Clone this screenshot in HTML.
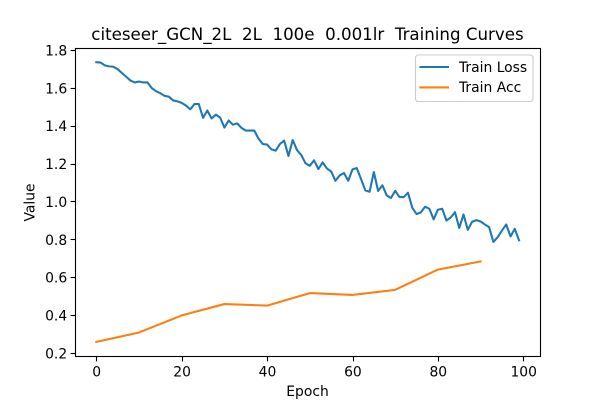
<!DOCTYPE html>
<html>
<head>
<meta charset="utf-8">
<style>
html,body{margin:0;padding:0;background:#fff;}
svg{display:block;}
text{font-family:"DejaVu Sans","Liberation Sans",sans-serif;fill:#000;white-space:pre;}
</style>
</head>
<body>
<svg id="chart" xmlns="http://www.w3.org/2000/svg" width="600" height="400" viewBox="0 0 600 400">
<rect x="0" y="0" width="600" height="400" fill="#fff"/>
<g id="plot"></g>
<text x="307.5" y="40" font-size="16.67" text-anchor="middle" xml:space="preserve">citeseer_GCN_2L  2L  100e  0.001lr  Training Curves</text>
<text x="307.5" y="396" font-size="13.89" text-anchor="middle">Epoch</text>
<text x="0" y="0" font-size="13.89" text-anchor="middle" transform="translate(34.5 202.5) rotate(-90)">Value</text>
<g>
<rect x="415.5" y="55" width="117.5" height="46.5" rx="2.8" fill="#fff" fill-opacity="0.8" stroke="#ccc" stroke-width="1.1"/>
<line x1="419.3" x2="449" y1="67" y2="67" stroke="#1f77b4" stroke-width="2.08"/>
<text x="459" y="71.8" font-size="13.89">Train Loss</text>
<line x1="419.3" x2="449" y1="87.4" y2="87.4" stroke="#ff7f0e" stroke-width="2.08"/>
<text x="459" y="92.2" font-size="13.89">Train Acc</text>
</g>
</svg>
<script>
const lossValues = [1.737,1.735,1.72,1.715,1.713,1.70,1.68,1.66,1.64,1.63,1.635,1.63,1.63,1.60,1.584,1.573,1.559,1.555,1.535,1.53,1.522,1.508,1.488,1.516,1.516,1.443,1.482,1.44,1.46,1.445,1.392,1.429,1.407,1.414,1.39,1.376,1.376,1.376,1.333,1.305,1.302,1.277,1.27,1.305,1.323,1.242,1.326,1.273,1.247,1.203,1.19,1.219,1.173,1.208,1.176,1.16,1.111,1.139,1.152,1.111,1.171,1.178,1.12,1.06,1.053,1.157,1.057,1.087,1.034,1.02,1.058,1.025,1.025,1.048,0.968,0.935,0.944,0.974,0.963,0.907,0.958,0.963,0.901,0.917,0.945,0.862,0.933,0.852,0.894,0.903,0.896,0.88,0.866,0.788,0.813,0.848,0.88,0.817,0.857,0.797];
const accEpochs = [0,10,20,30,40,50,60,70,80,90];
const accValues = [0.26,0.31,0.40,0.46,0.452,0.518,0.508,0.535,0.642,0.685];
const xTicks = [0,20,40,60,80,100];
const yTicks = [0.2,0.4,0.6,0.8,1.0,1.2,1.4,1.6,1.8];

const NS = 'http://www.w3.org/2000/svg';
const plot = document.getElementById('plot');
const box = {left:75.5, right:540.5, top:48.5, bottom:356.5};
function xScale(v){ return 96.3 + v * 4.27; }
function yScale(v){ return 353.3 - (v - 0.2) * 189.4; }
function make(tag, attrs, parent){
  const el = document.createElementNS(NS, tag);
  for (const k in attrs) el.setAttribute(k, attrs[k]);
  parent.appendChild(el);
  return el;
}

xTicks.forEach(function(t){
  const g = make('g', {}, plot);
  
  
  const x = Math.round(xScale(t)) + 0.5;
  make('line', {x1:x, x2:x, y1:box.bottom, y2:box.bottom + 4.9, stroke:'#000', 'stroke-width':1.1}, g);
  const label = make('text', {x:xScale(t) + 0.4, y:box.bottom + 20, 'font-size':13.89, 'text-anchor':'middle'}, g);
  label.textContent = String(t);
});

yTicks.forEach(function(t){
  const g = make('g', {}, plot);
  
  
  const y = Math.round(yScale(t) - 0.3) + 0.5;
  make('line', {x1:box.left - 4.9, x2:box.left, y1:y, y2:y, stroke:'#000', 'stroke-width':1.1}, g);
  const label = make('text', {x:box.left - 8.3, y:yScale(t) + 5.2, 'font-size':13.89, 'text-anchor':'end'}, g);
  label.textContent = t.toFixed(1);
});

const lossLine = make('polyline', {
  points: lossValues.map(function(v, i){ return xScale(i).toFixed(2) + ',' + yScale(v).toFixed(2); }).join(' '),
  fill:'none', stroke:'#1f77b4', 'stroke-width':2.08, 'stroke-linejoin':'round', 'stroke-linecap':'square'
}, plot);



const accLine = make('polyline', {
  points: accValues.map(function(v, i){ return xScale(accEpochs[i]).toFixed(2) + ',' + yScale(v).toFixed(2); }).join(' '),
  fill:'none', stroke:'#ff7f0e', 'stroke-width':2.08, 'stroke-linejoin':'round', 'stroke-linecap':'square'
}, plot);



const frame = make('rect', {
  x:box.left, y:box.top, width:box.right - box.left, height:box.bottom - box.top,
  fill:'none', stroke:'#000', 'stroke-width':1.1
}, plot);


</script>
</body>
</html>
